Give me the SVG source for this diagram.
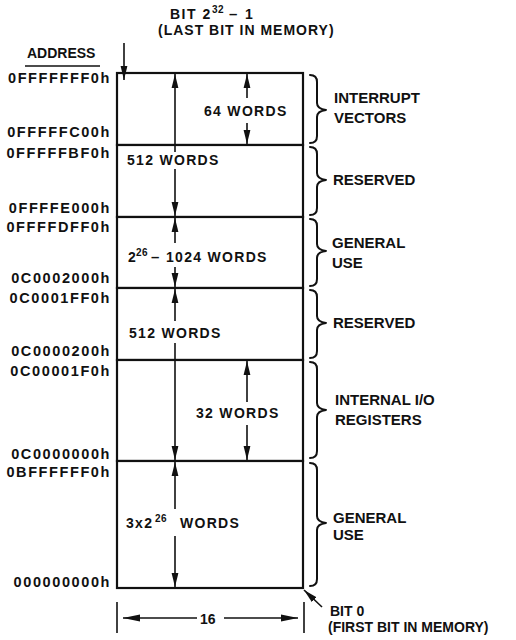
<svg xmlns="http://www.w3.org/2000/svg" width="516" height="640" viewBox="0 0 516 640">
<defs>
<style>
.t{font-family:"Liberation Sans",Arial,Helvetica,sans-serif;font-weight:bold;font-size:14px;fill:#111}
.addr{font-size:14.5px;letter-spacing:1.6px;text-anchor:end}
.lbl{font-size:15px}
.w{letter-spacing:1.3px}
.sup{font-size:10px;letter-spacing:0.5px}
.box{fill:#fff;stroke:#111;stroke-width:2.2}
.br{fill:none;stroke:#111;stroke-width:2;stroke-linejoin:round;stroke-linecap:round}
.ar{fill:none;stroke:#111;stroke-width:1.6}
.ah{marker-end:url(#ah)}
.ahh{marker-end:url(#ahh)}
</style>
<marker id="ah" markerUnits="userSpaceOnUse" markerWidth="14" markerHeight="8" refX="14" refY="4" orient="auto"><path d="M0,0.6 L14,4 L0,7.4 Z" fill="#111"/></marker>
<marker id="ahh" markerUnits="userSpaceOnUse" markerWidth="17" markerHeight="8" refX="17" refY="4" orient="auto"><path d="M0,0.6 L17,4 L0,7.4 Z" fill="#111"/></marker>
</defs>
<rect width="516" height="640" fill="#fff"/>

<g id="header">
<text class="t" x="170" y="19" style="letter-spacing:1.5px">BIT 2<tspan class="sup" x="212" dy="-6">32</tspan><tspan x="229" dy="6" style="font-size:15px">–</tspan><tspan x="245">1</tspan></text>
<text class="t" x="158" y="35" style="letter-spacing:1px">(LAST BIT IN MEMORY)</text>
<text class="t" x="27" y="58">ADDRESS</text>
<line x1="25" y1="66" x2="100" y2="66" stroke="#111" stroke-width="1.5"/>
</g>

<g id="interrupt-vectors">
<rect class="box" x="117" y="73" width="186" height="72"/>
<text class="t w" x="204" y="116">64 WORDS</text>
<text class="t addr" x="111" y="83">0FFFFFFF0h</text>
<text class="t addr" x="111" y="137">0FFFFFC00h</text>
<path class="br" d="M310,75 Q317,75 317,82 L317,103 Q317,109 326,110 Q317,111 317,117 L317,136 Q317,143 310,143"/>
<text class="t lbl" x="334" y="103">INTERRUPT</text>
<text class="t lbl" x="334" y="123">VECTORS</text>
</g>

<g id="reserved-1">
<rect class="box" x="117" y="145" width="186" height="72"/>
<text class="t w" x="127" y="165">512 WORDS</text>
<text class="t addr" x="111" y="158">0FFFFFBF0h</text>
<text class="t addr" x="111" y="213">0FFFFE000h</text>
<path class="br" d="M310,147 Q317,147 317,154 L317,173 Q317,179 326,180 Q317,181 317,187 L317,208 Q317,215 310,215"/>
<text class="t lbl" x="333" y="185">RESERVED</text>
</g>

<g id="general-use-1">
<rect class="box" x="117" y="217" width="186" height="71"/>
<text class="t w" x="128" y="262">2<tspan class="sup" x="136" dy="-6">26</tspan><tspan x="151" dy="6" style="font-size:15px">–</tspan><tspan x="166">1024 WORDS</tspan></text>
<text class="t addr" x="111" y="232">0FFFFDFF0h</text>
<text class="t addr" x="111" y="283">0C0002000h</text>
<path class="br" d="M310,219 Q317,219 317,226 L317,244 Q317,250 326,251 Q317,252 317,258 L317,279 Q317,286 310,286"/>
<text class="t lbl" x="332" y="248">GENERAL</text>
<text class="t lbl" x="332" y="268">USE</text>
</g>

<g id="reserved-2">
<rect class="box" x="117" y="288" width="186" height="72"/>
<text class="t w" x="129" y="338">512 WORDS</text>
<text class="t addr" x="111" y="303">0C0001FF0h</text>
<text class="t addr" x="111" y="356">0C0000200h</text>
<path class="br" d="M310,290 Q317,290 317,297 L317,316 Q317,322 326,323 Q317,324 317,330 L317,351 Q317,358 310,358"/>
<text class="t lbl" x="333" y="328">RESERVED</text>
</g>

<g id="internal-io-registers">
<rect class="box" x="117" y="360" width="186" height="101"/>
<text class="t w" x="196" y="418">32 WORDS</text>
<text class="t addr" x="111" y="376">0C00001F0h</text>
<text class="t addr" x="111" y="459">0C0000000h</text>
<path class="br" d="M310,362 Q317,362 317,369 L317,403 Q317,409 326,410 Q317,411 317,417 L317,451 Q317,458 310,458"/>
<text class="t lbl" x="335" y="405">INTERNAL I/O</text>
<text class="t lbl" x="335" y="425">REGISTERS</text>
</g>

<g id="general-use-2">
<rect class="box" x="117" y="461" width="186" height="127"/>
<text class="t w" x="126" y="528">3x2<tspan class="sup" x="155" dy="-6">26</tspan><tspan x="180" dy="6">WORDS</tspan></text>
<text class="t addr" x="111" y="477">0BFFFFFF0h</text>
<text class="t addr" x="111" y="587">000000000h</text>
<path class="br" d="M310,463 Q317,463 317,470 L317,516 Q317,522 326,523 Q317,524 317,530 L317,579 Q317,586 310,586"/>
<text class="t lbl" x="333" y="523">GENERAL</text>
<text class="t lbl" x="333" y="540">USE</text>
</g>

<g id="footer">
<text class="t" x="200" y="624">16</text>
<text class="t" x="330" y="616">BIT 0</text>
<text class="t" x="328" y="632">(FIRST BIT IN MEMORY)</text>
</g>

<g id="connectors">
<line class="ar ah" x1="124" y1="43" x2="124" y2="80"/>
<line class="ar ah" x1="175" y1="152" x2="175" y2="74"/>
<line class="ar ah" x1="175" y1="169" x2="175" y2="216"/>
<line class="ar ah" x1="247" y1="98" x2="247" y2="74"/>
<line class="ar ah" x1="247" y1="123" x2="247" y2="144"/>
<line class="ar ah" x1="175" y1="243" x2="175" y2="218"/>
<line class="ar ah" x1="175" y1="267" x2="175" y2="287"/>
<line class="ar ah" x1="175" y1="321" x2="175" y2="289"/>
<line class="ar ah" x1="175" y1="343" x2="175" y2="460"/>
<line class="ar ah" x1="247" y1="402" x2="247" y2="361"/>
<line class="ar ah" x1="247" y1="425" x2="247" y2="460"/>
<line class="ar ah" x1="175" y1="509" x2="175" y2="462"/>
<line class="ar ah" x1="175" y1="536" x2="175" y2="587"/>
<line class="ar" x1="117" y1="602" x2="117" y2="633"/>
<line class="ar" x1="304" y1="602" x2="304" y2="633"/>
<line class="ar ahh" x1="197" y1="618" x2="123" y2="618"/>
<line class="ar ahh" x1="224" y1="618" x2="298" y2="618"/>
<line class="ar ah" x1="322" y1="607" x2="304" y2="590"/>
</g>
</svg>
